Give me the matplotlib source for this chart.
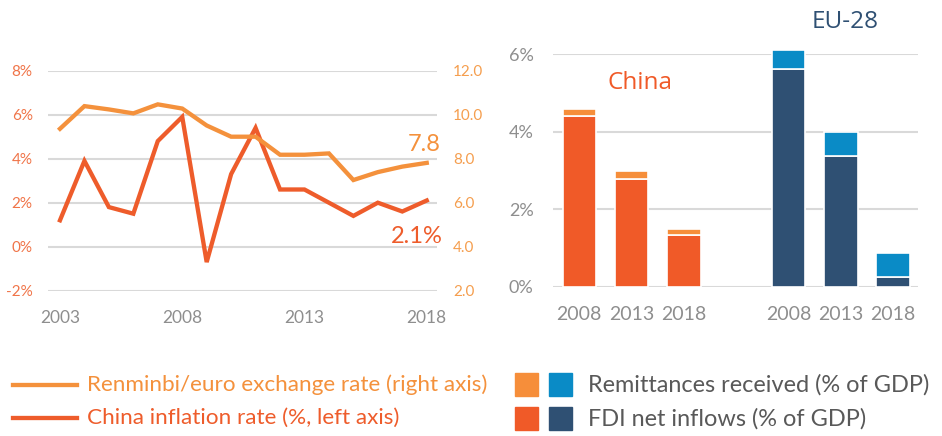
import matplotlib
matplotlib.use('Agg')
import matplotlib.pyplot as plt
from matplotlib.lines import Line2D
from matplotlib.patches import Rectangle

# %%
# data
years = list(range(2003, 2019))
inflation = [1.2, 3.9, 1.8, 1.5, 4.8, 5.9, -0.7, 3.3, 5.4, 2.6, 2.6, 2.0, 1.4, 2.0, 1.6, 2.1]
exch_rate = [9.36, 10.39, 10.24, 10.06, 10.47, 10.28, 9.51, 9.0, 9.0, 8.18, 8.18, 8.24, 7.03, 7.39, 7.64, 7.81]

bar_years = ['2008', '2013', '2018']
china_fdi = [4.40, 2.78, 1.33]
china_remit = [0.17, 0.21, 0.17]
eu_fdi = [5.61, 3.38, 0.26]
eu_remit = [0.49, 0.60, 0.62]

left_ticks = [-2, 0, 2, 4, 6, 8]
right_ticks = [2, 4, 6, 8, 10, 12]
bar_ticks = [0, 2, 4, 6]

# colours
c_exch = '#F4913C'
c_infl = '#EE5C2B'
c_china_fdi = '#F05A28'
c_china_rem = '#F68E3A'
c_eu_fdi = '#2F5073'
c_eu_rem = '#0A8BC6'
c_grid = '#D9D9D9'
c_gray = '#8E8E8E'

plt.rcParams['font.family'] = ['Lato', 'DejaVu Sans']

W, H = 942, 436
fig = plt.figure(figsize=(W / 100, H / 100), dpi=100)


def px_axes(x0, y0, x1, y1):
    # pixel box (top-left origin) -> figure axes
    return fig.add_axes([x0 / W, (H - y1) / H, (x1 - x0) / W, (y1 - y0) / H])


# %%
# left: line chart
ax = px_axes(48, 70.7, 437, 290.7)
ax2 = ax.twinx()

ax.set_xlim(2002.51, 2018.42)
ax.set_ylim(-2, 8)
ax2.set_ylim(2, 12)

ax.set_yticks(left_ticks)
ax.set_yticklabels([f'{t}%' for t in left_ticks])
ax2.set_yticks(right_ticks)
ax2.set_yticklabels([f'{t:.1f}' for t in right_ticks])
ax.set_xticks([2003, 2008, 2013, 2018])

ax.grid(axis='y', color=c_grid, linewidth=1.5)
ax.set_axisbelow(True)
for a in (ax, ax2):
    for s in a.spines.values():
        s.set_visible(False)
ax.tick_params(axis='y', length=0, pad=11, labelsize=11, labelcolor='#F07448')
ax2.tick_params(axis='y', length=0, pad=11.5, labelsize=11, labelcolor='#F59E4E')
ax.tick_params(axis='x', length=0, pad=14, labelsize=12.5, labelcolor=c_gray)

ax2.plot(years, exch_rate, color=c_exch, linewidth=3.1, solid_joinstyle='miter')
ax.plot(years, inflation, color=c_infl, linewidth=3.1, solid_joinstyle='miter', zorder=3)

ax2.annotate(f'{exch_rate[-1]:.1f}', xy=(years[-1], exch_rate[-1]), xytext=(-3, 18),
             textcoords='offset pixels', ha='center', va='center', fontsize=17, color=c_exch)
ax.annotate(f'{inflation[-1]:.1f}%', xy=(years[-1], inflation[-1]), xytext=(-10, -36),
            textcoords='offset pixels', ha='center', va='center', fontsize=17, color=c_infl)

# %%
# right: stacked bars
bx = px_axes(553, 54, 918, 286.7)
pos_china = [0, 1, 2]
pos_eu = [4, 5, 6]
bw = 0.64
bx.bar(pos_china, china_fdi, bw, color=c_china_fdi, edgecolor='white', linewidth=1.2, clip_on=False)
bx.bar(pos_china, china_remit, bw, bottom=china_fdi, color=c_china_rem, edgecolor='white',
       linewidth=1.2, clip_on=False)
bx.bar(pos_eu, eu_fdi, bw, color=c_eu_fdi, edgecolor='white', linewidth=1.2, clip_on=False)
bx.bar(pos_eu, eu_remit, bw, bottom=eu_fdi, color=c_eu_rem, edgecolor='white',
       linewidth=1.2, clip_on=False)

bx.set_xlim(-0.503, 6.476)
bx.set_ylim(0, 6)
bx.set_yticks(bar_ticks)
bx.set_yticklabels([f'{t}%' for t in bar_ticks])
bx.set_xticks(pos_china + pos_eu)
bx.set_xticklabels(bar_years + bar_years)
bx.grid(axis='y', color=c_grid, linewidth=1.5)
bx.set_axisbelow(True)
for s in bx.spines.values():
    s.set_visible(False)
bx.tick_params(axis='y', length=0, pad=14, labelsize=13, labelcolor=c_gray)
bx.tick_params(axis='x', length=0, pad=14, labelsize=14, labelcolor=c_gray)

bx.text(1.16, 5.25, 'China', fontsize=17.5, color=c_china_fdi, ha='center', va='center',
        family=['Open Sans', 'DejaVu Sans'])
bx.text(5.08, 6.82, 'EU-28', fontsize=17.5, color=c_eu_fdi, ha='center', va='center',
        family=['Open Sans', 'DejaVu Sans'])

# %%
# legends, drawn by hand in pixel positions
def fx(x):
    return x / W


def fy(y):
    return (H - y) / H


for yy, col, label in [(385, c_exch, 'Renminbi/euro exchange rate (right axis)'),
                       (418, c_infl, 'China inflation rate (%, left axis)')]:
    fig.add_artist(Line2D([fx(13), fx(77)], [fy(yy), fy(yy)], color=col, linewidth=3.1))
    fig.text(fx(87), fy(yy), label, color=col, fontsize=16.2, va='center', ha='left')

for yy, c1, c2, label in [(384.5, c_china_rem, c_eu_rem, 'Remittances received (% of GDP)'),
                          (418.5, c_china_fdi, c_eu_fdi, 'FDI net inflows (% of GDP)')]:
    fig.add_artist(Rectangle((fx(515), fy(yy + 11)), 22.5 / W, 22.5 / H, color=c1))
    fig.add_artist(Rectangle((fx(549), fy(yy + 11)), 22.5 / W, 22.5 / H, color=c2))
    fig.text(fx(588), fy(yy), label, color='#595959', fontsize=16.9, va='center', ha='left')

fig.savefig('out.png', dpi=100)
